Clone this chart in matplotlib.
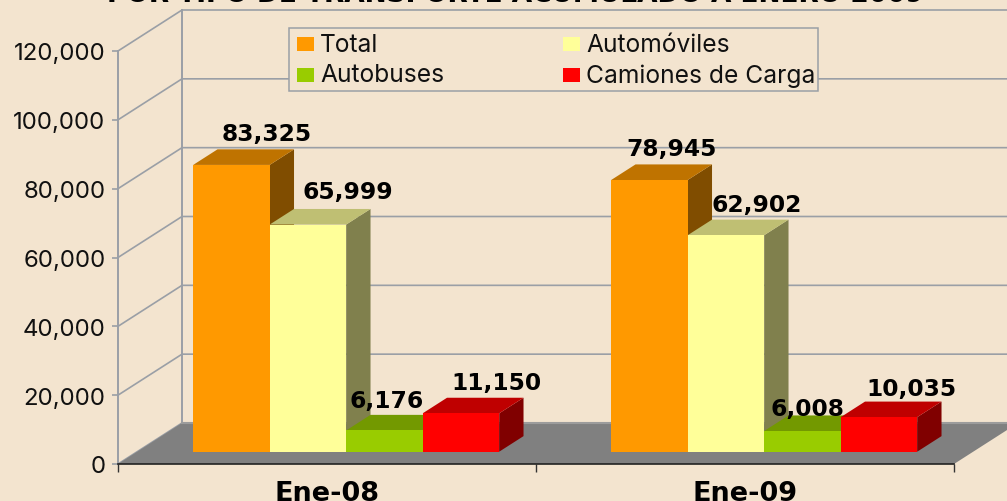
import matplotlib
matplotlib.use("Agg")
import matplotlib.pyplot as plt
from matplotlib.patches import Polygon, Rectangle

# chart values
periods = ["Ene-08", "Ene-09"]
series_names = ["Total", "Automóviles", "Autobuses", "Camiones de Carga"]
total = [83325, 78945]
automoviles = [65999, 62902]
autobuses = [6176, 6008]
camiones = [11150, 10035]
y_ticks = [0, 20000, 40000, 60000, 80000, 100000, 120000]

front_colors = ["#ff9900", "#ffff99", "#99cc00", "#ff0000"]
top_colors = ["#bf7300", "#bfbf73", "#739900", "#bf0000"]
side_colors = ["#804d00", "#80804d", "#4d6600", "#800000"]
# pixel nudges for the value labels, by group then series
label_offsets = [
    [(11, 16), (16, 17), (-22, 14), (11, 15)],
    [(-2, 16), (6, 15), (-19, 7), (8, 13)],
]

W, H = 1007, 502
BG = "#f3e4cf"
GRID = "#9a9fa6"

plt.rcParams["font.family"] = ["Inter", "DejaVu Sans"]

fig = plt.figure(figsize=(W / 100, H / 100), dpi=100, facecolor=BG)
# axes = front plane of the chart
ax = fig.add_axes([118 / W, 1 - 465 / H, 836 / W, 413 / H])
ax.set_xlim(-0.5, 1.5)
ax.set_ylim(0, 120000)
ax.patch.set_visible(False)
for s in ax.spines.values():
    s.set_visible(False)

# full depth of the box in data units
DX = 64 / 418
DY = 41 / 413 * 120000


def proj(x, y, d):
    return (x + DX * d, y + DY * d)


# walls and gridlines
for v in y_ticks:
    pts = [proj(-0.5, v, 0), proj(-0.5, v, 1), proj(1.5, v, 1)]
    ax.plot(*zip(*pts), color=GRID, lw=1.2, clip_on=False, zorder=1)
ax.plot(*zip(proj(-0.5, 0, 0), proj(-0.5, 120000, 0)), color=GRID, lw=1.4, clip_on=False, zorder=1)
ax.plot(*zip(proj(-0.5, 0, 1), proj(-0.5, 120000, 1)), color=GRID, lw=1.4, clip_on=False, zorder=1)

# floor
floor = [proj(-0.5, 0, 0), proj(1.5, 0, 0), proj(1.5, 0, 1), proj(-0.5, 0, 1)]
ax.add_patch(Polygon(floor, closed=True, fc="#808080", ec="none", clip_on=False, zorder=2))
ax.plot(*zip(proj(-0.5, 0, 1), proj(1.5, 0, 1)), color="#9c9c9c", lw=1.5, clip_on=False, zorder=2)

BAR_W = 76.5 / 418
D0, D1 = 0.30, 0.68
all_series = [total, automoviles, autobuses, camiones]

for g in range(len(periods)):
    for i, vals in enumerate(all_series):
        v = vals[g]
        x0 = g + (i - 2) * BAR_W
        x1 = x0 + BAR_W
        z = 3 + g * 10 + i
        # side, top, front
        side = [proj(x1, 0, D0), proj(x1, 0, D1), proj(x1, v, D1), proj(x1, v, D0)]
        top = [proj(x0, v, D0), proj(x1, v, D0), proj(x1, v, D1), proj(x0, v, D1)]
        front = [proj(x0, 0, D0), proj(x1, 0, D0), proj(x1, v, D0), proj(x0, v, D0)]
        ax.add_patch(Polygon(side, closed=True, fc=side_colors[i], ec="none", clip_on=False, zorder=z))
        ax.add_patch(Polygon(top, closed=True, fc=top_colors[i], ec="none", clip_on=False, zorder=z))
        ax.add_patch(Polygon(front, closed=True, fc=front_colors[i], ec="none", clip_on=False, zorder=z))
        px, py = proj((x0 + x1) / 2, v, D1)
        ox, oy = label_offsets[g][i]
        ax.annotate(f"{v:,}", (px, py), xytext=(ox * 0.72, oy * 0.72), textcoords="offset points",
                    ha="center", va="center", fontsize=16.8, fontweight="bold", family="DejaVu Sans",
                    color="black", zorder=40)

# axis ticks and labels
ax.set_yticks(y_ticks)
ax.set_yticklabels([f"{v:,}" for v in y_ticks], fontsize=17.3, color="#111111")
ax.tick_params(axis="y", length=4, width=1.2, color=GRID, pad=5)
ax.set_xticks([-0.5, 0.5, 1.5])
ax.set_xticklabels([])
ax.tick_params(axis="x", length=6, width=1, color="#333333")
ax.plot([-0.5, 1.5], [0, 0], color="#222222", lw=1.2, clip_on=False, zorder=30)
for g, name in enumerate(periods):
    ax.text(g, -0.07, name, transform=ax.get_xaxis_transform(), ha="center", va="center",
            fontsize=19.5, fontweight="bold", family="DejaVu Sans", color="black")

# legend box
fig.add_artist(Rectangle((289 / W, 1 - 92 / H), 529 / W, 63 / H, transform=fig.transFigure,
                         fc=BG, ec=GRID, lw=1.1, zorder=50))
legend_pos = [(297, 45), (563, 45), (297, 76), (563, 76)]
for (lx, ly), name, c in zip(legend_pos, series_names, front_colors):
    fig.add_artist(Rectangle((lx / W, 1 - (ly + 7) / H), 17 / W, 14 / H, transform=fig.transFigure,
                             fc=c, ec="none", zorder=51))
    fig.text((lx + 23) / W, 1 - ly / H, name, fontsize=17.7, color="#111111", va="center", ha="left", zorder=52)

# title runs off the top edge, same as the original
fig.text(515 / W, 1 - (-5) / H, "POR TIPO DE TRANSPORTE ACUMULADO A ENERO 2009", ha="center", va="center",
         fontsize=19, fontweight="bold", family="DejaVu Sans", color="black")

fig.savefig("out.png", dpi=100, facecolor=BG)
